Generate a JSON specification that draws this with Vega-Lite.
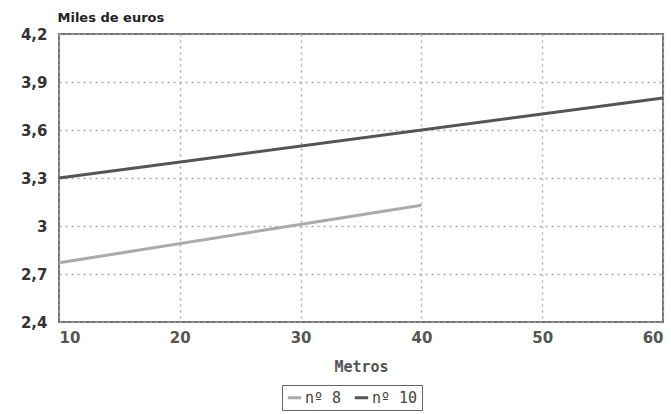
{
  "$schema": "https://vega.github.io/schema/vega-lite/v6.json",
  "width": 604,
  "height": 288,
  "autosize": {"type": "none"},
  "padding": {"left": 59, "top": 34, "right": 8, "bottom": 92},
  "background": "white",
  "data": {
    "values": [
      {"metros": 10, "euros": 2.77, "serie": "nº 8"},
      {"metros": 40, "euros": 3.13, "serie": "nº 8"},
      {"metros": 10, "euros": 3.3, "serie": "nº 10"},
      {"metros": 60, "euros": 3.8, "serie": "nº 10"}
    ]
  },
  "mark": {"type": "line", "strokeWidth": 3},
  "encoding": {
    "x": {
      "field": "metros", "type": "quantitative",
      "scale": {"domain": [10, 60], "nice": false},
      "axis": {
        "values": [10, 20, 30, 40, 50, 60],
        "title": "Metros",
        "titleFont": "DejaVu Sans Mono", "titleFontSize": 15, "titleFontWeight": "bold", "titleColor": "#555",
        "titlePadding": 14,
        "labelFont": "DejaVu Sans", "labelFontSize": 15, "labelFontWeight": "bold", "labelColor": "#555",
        "labelPadding": 8, "ticks": false, "domain": false,
        "grid": true, "gridDash": [2, 4], "gridColor": "#aaa", "gridWidth": 1.5
      }
    },
    "y": {
      "field": "euros", "type": "quantitative",
      "scale": {"domain": [2.4, 4.2], "nice": false, "zero": false},
      "axis": {
        "values": [2.4, 2.7, 3, 3.3, 3.6, 3.9, 4.2],
        "labelExpr": "replace(format(datum.value, '.1~f'), '.', ',')",
        "title": "Miles de euros",
        "titleAngle": 0, "titleAlign": "left", "titleBaseline": "bottom",
        "titleX": -2, "titleY": -10,
        "titleFont": "DejaVu Sans", "titleFontSize": 13, "titleFontWeight": "bold", "titleColor": "#222",
        "labelFont": "DejaVu Sans", "labelFontSize": 15, "labelFontWeight": "bold", "labelColor": "#333",
        "labelPadding": 12, "ticks": false, "domain": false,
        "grid": true, "gridDash": [2, 4], "gridColor": "#aaa", "gridWidth": 1.5
      }
    },
    "color": {
      "field": "serie", "type": "nominal",
      "scale": {"domain": ["nº 8", "nº 10"], "range": ["#aaaaaa", "#555555"]},
      "legend": {
        "title": null, "orient": "none", "direction": "horizontal",
        "legendX": 223, "legendY": 351,
        "symbolType": "stroke", "symbolSize": 180, "symbolStrokeWidth": 3,
        "labelFont": "DejaVu Sans Mono", "labelFontSize": 15, "labelColor": "#444",
        "strokeColor": "#666", "padding": 4, "columnPadding": 6, "labelOffset": 2
      }
    }
  },
  "config": {
    "view": {"stroke": "#777", "strokeWidth": 2}
  }
}
